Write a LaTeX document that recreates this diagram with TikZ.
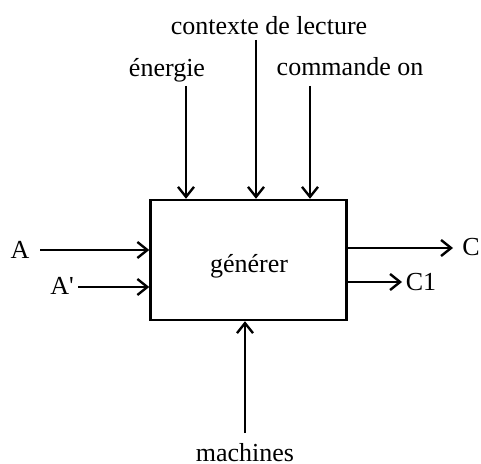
\documentclass[tikz,border=0pt]{standalone}
\usepackage{fontspec}
\setmainfont{Liberation Serif}
\usetikzlibrary{arrows.meta}
\begin{document}
\begin{tikzpicture}[x=0.5pt,y=-0.5pt,font=\fontsize{13}{15}\selectfont,
    flow/.style={line width=1.2pt,-{Straight Barb[length=5pt,width=8pt,line width=1.2pt]}},
    lbl/.style={anchor=base,inner sep=0pt}]
  \useasboundingbox (0,0) rectangle (481,464);
  % the activity box
  \node[draw,line width=1.2pt,minimum width=98pt,minimum height=60pt,inner sep=0pt] (gen) at (248.5,260) {};
  \node[lbl] (lgen) at (249,273) {générer};

  % controls, from above
  \node[lbl] (lctx) at (269,35) {contexte de lecture};
  \node[lbl] (lnrg) at (167,77) {énergie};
  \node[lbl] (lcmd) at (350,76) {commande on};
  \coordinate (ctx) at (256,40);
  \coordinate (nrg) at (186,86);
  \coordinate (cmd) at (310,86);
  \draw[flow] (ctx) -- (ctx |- gen.north);
  \draw[flow] (nrg) -- (nrg |- gen.north);
  \draw[flow] (cmd) -- (cmd |- gen.north);

  % inputs
  \node[lbl] (lA) at (20,259) {A};
  \node[lbl] (lAp) at (62,295) {A\textquotesingle};
  \coordinate (inA) at (40,250);
  \coordinate (inAp) at (78,287);
  \draw[flow] (inA) -- (inA -| gen.west);
  \draw[flow] (inAp) -- (inAp -| gen.west);

  % outputs
  \node[lbl] (lC) at (471,256) {C};
  \node[lbl] (lCi) at (421,291) {C1};
  \coordinate (outC) at (453,248);
  \coordinate (outCi) at (402,282);
  \draw[flow] (outC -| gen.east) -- (outC);
  \draw[flow] (outCi -| gen.east) -- (outCi);

  % mechanism, from below
  \node[lbl] (lmac) at (245,461) {machines};
  \coordinate (mac) at (245,433);
  \draw[flow] (mac) -- (mac |- gen.south);
\end{tikzpicture}
\end{document}
